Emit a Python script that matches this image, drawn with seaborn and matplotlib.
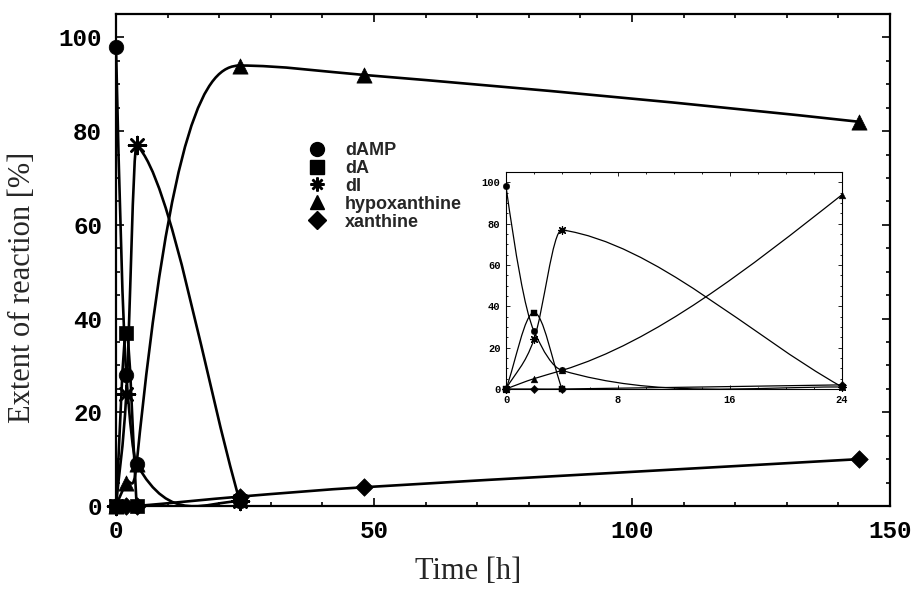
import numpy as np
import pandas as pd
import matplotlib
matplotlib.use("Agg")
import matplotlib.pyplot as plt
import seaborn as sns
from matplotlib.path import Path
from matplotlib.patches import PathPatch
from matplotlib.lines import Line2D
from matplotlib.ticker import MultipleLocator

# ---------------- data ----------------
series_names = ["dAMP", "dA", "dI", "hypoxanthine", "xanthine"]
t_dAMP = [0, 2, 4, 24]
v_dAMP = [98, 28, 9, 1]
t_dA = [0, 2, 4]
v_dA = [0, 37, 0]
t_dI = [0, 2, 4, 24]
v_dI = [0, 24, 77, 1]
t_hyp = [0, 2, 4, 24, 48, 144]
v_hyp = [0, 5, 9, 94, 92, 82]
t_xan = [0, 2, 4, 24, 48, 144]
v_xan = [0, 0, 0, 2, 4, 10]

x_ticks_main = [0, 50, 100, 150]
y_ticks = [0, 20, 40, 60, 80, 100]
x_ticks_inset = [0, 8, 16, 24]

# ---------------- smooth curve helpers (cubic Bezier through the points) ----------------
def pchip_slopes(x, y):
    x = np.asarray(x, float); y = np.asarray(y, float)
    h = np.diff(x); d = np.diff(y) / h
    n = len(x); m = np.zeros(n)
    if n == 2:
        m[:] = d[0]; return m
    for i in range(1, n - 1):
        if d[i - 1] * d[i] <= 0:
            m[i] = 0
        else:
            w1 = 2 * h[i] + h[i - 1]; w2 = h[i] + 2 * h[i - 1]
            m[i] = (w1 + w2) / (w1 / d[i - 1] + w2 / d[i])
    def end(h0, h1, d0, d1):
        s = ((2 * h0 + h1) * d0 - h0 * d1) / (h0 + h1)
        if np.sign(s) != np.sign(d0):
            s = 0
        elif np.sign(d0) != np.sign(d1) and abs(s) > abs(3 * d0):
            s = 3 * d0
        return s
    m[0] = end(h[0], h[1], d[0], d[1])
    m[-1] = end(h[-1], h[-2], d[-1], d[-2])
    return m

def fd_slopes(x, y):
    x = np.asarray(x, float); y = np.asarray(y, float)
    n = len(x); m = np.zeros(n)
    m[0] = (y[1] - y[0]) / (x[1] - x[0])
    m[-1] = (y[-1] - y[-2]) / (x[-1] - x[-2])
    for i in range(1, n - 1):
        m[i] = (y[i + 1] - y[i - 1]) / (x[i + 1] - x[i - 1])
    return m

def natural_slopes(x, y):
    x = np.asarray(x, float); y = np.asarray(y, float)
    n = len(x); h = np.diff(x); d = np.diff(y) / h
    A = np.zeros((n, n)); b = np.zeros(n)
    A[0, 0] = 1; A[-1, -1] = 1
    for i in range(1, n - 1):
        A[i, i - 1] = h[i - 1]; A[i, i] = 2 * (h[i - 1] + h[i]); A[i, i + 1] = h[i]
        b[i] = 6 * (d[i] - d[i - 1])
    M = np.linalg.solve(A, b)
    m = np.zeros(n)
    for i in range(n - 1):
        m[i] = d[i] - h[i] * (2 * M[i] + M[i + 1]) / 6
    m[-1] = d[-1] + h[-1] * (M[-2] + 2 * M[-1]) / 6
    return m

SLOPES = {"pchip": pchip_slopes, "fd": fd_slopes, "natural": natural_slopes}

def smooth_path(ax, x, y, method="fd", lw=1.8, tangent=None):
    """Draw a smooth curve through the data points as cubic Bezier segments.
    `tangent` optionally sets the curve's tangent at given point indices (a curve style)."""
    x = np.asarray(x, float); y = np.asarray(y, float)
    m = SLOPES[method](x, y)
    for k, v in (tangent or {}).items():
        m[k] = v
    verts = [(x[0], y[0])]; codes = [Path.MOVETO]
    for i in range(len(x) - 1):
        h = x[i + 1] - x[i]
        verts += [(x[i] + h / 3, y[i] + m[i] * h / 3),
                  (x[i + 1] - h / 3, y[i + 1] - m[i + 1] * h / 3),
                  (x[i + 1], y[i + 1])]
        codes += [Path.CURVE4] * 3
    ax.add_patch(PathPatch(Path(verts, codes), fill=False, edgecolor="black",
                           lw=lw, capstyle="round", joinstyle="round"))

# ---------------- figure ----------------
sns.set_style("ticks")
plt.rcParams["font.family"] = ["Liberation Sans", "DejaVu Sans"]

W, H = 913, 590
fig = plt.figure(figsize=(W / 100, H / 100), dpi=100)
ax = fig.add_axes([116 / W, 84 / H, 774 / W, 492 / H])
ins = fig.add_axes([506 / W, 201 / H, 336 / W, 217 / H])

star = (8, 2, 0)
markers = {"dAMP": "o", "dA": "s", "dI": star, "hypoxanthine": "^", "xanthine": "D"}
data = {
    "dAMP": (t_dAMP, v_dAMP),
    "dA": (t_dA, v_dA),
    "dI": (t_dI, v_dI),
    "hypoxanthine": (t_hyp, v_hyp),
    "xanthine": (t_xan, v_xan),
}

# main curves
main_method = {"dAMP": "pchip", "dA": "fd", "dI": "fd", "hypoxanthine": "pchip", "xanthine": "fd"}
main_tangent = {"dAMP": {2: -2.0}, "hypoxanthine": {2: 11.0}}
for name in series_names:
    smooth_path(ax, *data[name], main_method[name], 1.9, main_tangent.get(name))

main_sizes = {"dAMP": 110, "dA": 100, "dI": 150, "hypoxanthine": 120, "xanthine": 80}
for name in series_names:
    tt, vv = data[name]
    df = pd.DataFrame({"t": tt, "v": vv})
    if name == "dI":
        sns.scatterplot(data=df, x="t", y="v", ax=ax, marker=star, s=main_sizes[name],
                        color="black", linewidth=1.8, zorder=5, clip_on=False)
    else:
        sns.scatterplot(data=df, x="t", y="v", ax=ax, marker=markers[name],
                        s=main_sizes[name], color="black", edgecolor="black",
                        linewidth=0.5, zorder=5, clip_on=False)

# inset curves (0..24 h)
smooth_path(ins, t_dAMP, v_dAMP, "pchip", 0.9, {2: -2.0})
smooth_path(ins, t_dA, v_dA, "fd", 0.9)
smooth_path(ins, t_dI, v_dI, "fd", 0.9)
smooth_path(ins, t_hyp[:4], v_hyp[:4], "natural", 0.9)
smooth_path(ins, t_xan[:4], v_xan[:4], "fd", 0.9)
ins_sizes = {"dAMP": 22, "dA": 22, "dI": 30, "hypoxanthine": 24, "xanthine": 18}
for name in series_names:
    tt, vv = data[name]
    df = pd.DataFrame({"t": tt, "v": vv})
    df = df[df["t"] <= 24]
    if name == "dI":
        sns.scatterplot(data=df, x="t", y="v", ax=ins, marker=star, s=ins_sizes[name],
                        color="black", linewidth=0.9, zorder=5, clip_on=False)
    else:
        sns.scatterplot(data=df, x="t", y="v", ax=ins, marker=markers[name],
                        s=ins_sizes[name], color="black", edgecolor="black",
                        linewidth=0.3, zorder=5, clip_on=False)

# ---------------- axes styling ----------------
mono = dict(family=["Liberation Mono", "DejaVu Sans Mono"], weight="bold")

ax.set_xlim(0, 150)
ax.set_ylim(0, 105)
ax.set_xticks(x_ticks_main)
ax.set_yticks(y_ticks)
ax.xaxis.set_minor_locator(MultipleLocator(10))
ax.yaxis.set_minor_locator(MultipleLocator(5))
ax.tick_params(which="both", direction="in", top=True, right=True, width=1.2, colors="black")
ax.tick_params(which="major", length=6, pad=10)
ax.tick_params(which="minor", length=3)
for lab in ax.get_xticklabels() + ax.get_yticklabels():
    lab.set_fontproperties(dict(mono, size=17.5))
for sp in ax.spines.values():
    sp.set_linewidth(1.6); sp.set_color("black")
ax.set_xlabel("Time [h]", family=["Liberation Serif"], fontsize=22)
ax.xaxis.set_label_coords(0.455, -0.104)
ax.set_ylabel("Extent of reaction [%]", family=["Liberation Serif"], fontsize=22)
ax.yaxis.set_label_coords(-0.102, 0.445)

ins.set_xlim(0, 24)
ins.set_ylim(0, 105)
ins.set_xticks(x_ticks_inset)
ins.set_yticks(y_ticks)
ins.xaxis.set_minor_locator(MultipleLocator(2))
ins.yaxis.set_minor_locator(MultipleLocator(5))
ins.tick_params(which="both", direction="in", top=True, right=True, width=0.6, colors="black")
ins.tick_params(which="major", length=3, pad=4)
ins.tick_params(which="minor", length=1.5)
for lab in ins.get_xticklabels() + ins.get_yticklabels():
    lab.set_fontproperties(dict(mono, size=7.5))
for sp in ins.spines.values():
    sp.set_linewidth(0.8); sp.set_color("black")
ins.set_xlabel(""); ins.set_ylabel("")

# ---------------- legend ----------------
handles = []
leg_ms = {"dAMP": 10, "dA": 10, "dI": 10, "hypoxanthine": 10, "xanthine": 9}
for name in series_names:
    if name == "dI":
        h = Line2D([], [], linestyle="none", marker=star, markersize=leg_ms[name],
                   color="black", markeredgewidth=1.8)
    else:
        h = Line2D([], [], linestyle="none", marker=markers[name],
                   markersize=leg_ms[name], color="black", markeredgecolor="black")
    handles.append(h)
ax.legend(handles, series_names, loc="upper left", bbox_to_anchor=(308 / W, 448 / H),
          bbox_transform=fig.transFigure, frameon=False, borderpad=0, borderaxespad=0,
          handlelength=1.0, handletextpad=1.05, labelspacing=0.05,
          prop=dict(family=["Liberation Sans"], weight="bold", size=13))

fig.savefig("out.png", dpi=100)
